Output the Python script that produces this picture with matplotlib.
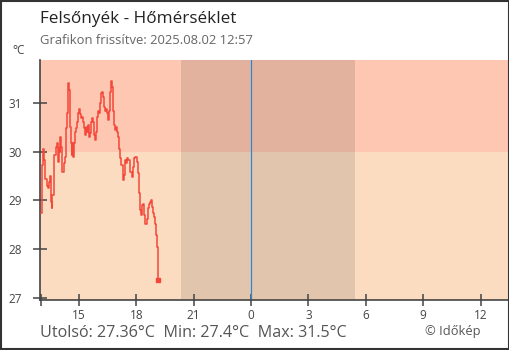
import matplotlib

matplotlib.use("Agg")
import matplotlib.pyplot as plt
from matplotlib.patches import Rectangle

plt.rcParams["font.family"] = ["Open Sans", "DejaVu Sans"]

# readings from yesterday afternoon (local time), degC
times = [
    "13:00", "13:03", "13:05", "13:09", "13:12", "13:15", "13:19", "13:24", "13:27", "13:30",
    "13:32", "13:35", "13:37", "13:41", "13:43", "13:48", "13:51", "13:54", "13:57", "14:00",
    "14:02", "14:05", "14:08", "14:13", "14:16", "14:19", "14:22", "14:25", "14:27", "14:29",
    "14:31", "14:35", "14:38", "14:40", "14:42", "14:45", "14:48", "14:51", "14:54", "14:58",
    "15:01", "15:03", "15:06", "15:09", "15:12", "15:15", "15:18", "15:22", "15:25", "15:28",
    "15:31", "15:34", "15:37", "15:40", "15:44", "15:47", "15:50", "15:53", "15:56", "15:59",
    "16:02", "16:06", "16:09", "16:12", "16:15", "16:18", "16:21", "16:24", "16:27", "16:31",
    "16:34", "16:37", "16:40", "16:42", "16:45", "16:48", "16:51", "16:55", "16:58", "17:01",
    "17:04", "17:07", "17:10", "17:13", "17:17", "17:20", "17:23", "17:26", "17:29", "17:32",
    "17:35", "17:39", "17:42", "17:45", "17:48", "17:51", "17:54", "17:57", "18:00", "18:04",
    "18:07", "18:10", "18:13", "18:16", "18:19", "18:22", "18:26", "18:29", "18:32", "18:35",
    "18:38", "18:41", "18:44", "18:47", "18:50", "18:53", "18:56", "18:59", "19:02", "19:05",
    "19:07", "19:09",
]
temps = [
    28.73, 29.10, 29.72, 30.06, 29.83, 29.43, 29.30, 29.25, 29.38, 29.50,
    28.96, 28.84, 29.10, 29.38, 29.93, 30.10, 30.17, 29.79, 30.07, 30.00,
    30.30, 30.10, 29.57, 29.76, 29.89, 30.48, 30.80, 31.26, 31.41, 31.26,
    30.50, 30.17, 29.93, 30.17, 29.89, 30.17, 30.40, 30.48, 30.60, 30.80,
    30.88, 30.78, 30.68, 30.70, 30.60, 30.48, 30.34, 30.50, 30.40, 30.54,
    30.30, 30.38, 30.60, 30.68, 30.60, 30.34, 30.24, 30.40, 30.70, 30.84,
    30.80, 31.00, 31.20, 31.23, 31.13, 30.92, 30.84, 30.88, 30.80, 30.64,
    30.84, 31.23, 31.40, 31.45, 31.33, 30.84, 30.54, 30.44, 30.50, 30.40,
    30.30, 30.06, 29.86, 29.72, 29.62, 29.41, 29.51, 29.82, 29.76, 29.86,
    29.82, 29.79, 29.57, 29.57, 29.48, 29.69, 29.86, 29.89, 29.89, 29.79,
    29.55, 29.14, 28.80, 28.70, 28.90, 28.93, 28.70, 28.52, 28.52, 28.62,
    28.83, 28.93, 28.96, 29.00, 28.86, 28.73, 28.66, 28.52, 28.28, 28.04,
    27.56, 27.36,
]

tick_hours = [-11, -9, -6, -3, 0, 3, 6, 9, 12]
tick_labels = ["", "15", "18", "21", "0", "3", "6", "9", "12"]
y_ticks = [27, 28, 29, 30, 31]
sunset, sunrise = -3.66, 5.44  # hours relative to midnight
threshold = 30

station = "Felsőnyék"
updated = "2025.08.02 12:57"
last_val, min_val, max_val = 27.36, 27.4, 31.5


def to_hours(hhmm):
    h, m = hhmm.split(":")
    return int(h) + int(m) / 60 - 24  # yesterday


hours = [to_hours(t) for t in times]

fig = plt.figure(figsize=(5.1, 3.5), dpi=100)
ax = fig.add_axes([40 / 510, 1 - 300 / 350, 469 / 510, 240 / 350])

xmin, xmax = -11.03, 13.49
ymin, ymax = 26.95, 31.88
ax.set_xlim(xmin, xmax)
ax.set_ylim(ymin, ymax)

ax.axhspan(threshold, ymax, color="#fdc7b1", lw=0, zorder=0)
ax.axhspan(ymin, threshold, color="#fcdcc1", lw=0, zorder=0)
ax.axvspan(sunset, sunrise, color="black", alpha=0.1, lw=0, zorder=1)
ax.axvline(0, color="#2f86d6", lw=0.9, zorder=2)

ax.plot(hours, temps, drawstyle="steps-post", color="#f4473a", lw=1.1, zorder=3)
ax.plot(hours[-1], temps[-1], "s", color="#f4473a", ms=3, zorder=4)

for s in ("top", "right"):
    ax.spines[s].set_visible(False)
for s in ("left", "bottom"):
    ax.spines[s].set_color("#444444")
    ax.spines[s].set_linewidth(1.2)

ax.set_xticks(tick_hours)
ax.set_xticklabels(tick_labels)
ax.set_yticks(y_ticks)
ax.tick_params(axis="x", direction="inout", length=8.5, width=1.1, color="#444444",
               labelsize=8.5, labelcolor="#444444", pad=2)
ax.tick_params(axis="y", direction="inout", length=10, width=1.1, color="#444444",
               labelsize=8.5, labelcolor="#444444", pad=8)

fig.text(40 / 510, 1 - 19 / 350, f"{station} - Hőmérséklet", fontsize=12.3,
         color="#222222", va="center")
fig.text(40 / 510, 1 - 41 / 350, f"Grafikon frissítve: {updated}", fontsize=9.4,
         color="#666666", va="center")
fig.text(19 / 510, 1 - 51 / 350, "°C", fontsize=8.5, color="#444444", va="center", ha="center")
fig.text(40 / 510, 1 - 333 / 350,
         f"Utolsó: {last_val:.2f}°C  Min: {min_val}°C  Max: {max_val}°C",
         fontsize=11.6, color="#555555", va="center")
fig.text(453 / 510, 1 - 331 / 350, "© Időkép", fontsize=9.3, color="#555555",
         va="center", ha="center")

fig.add_artist(Rectangle((0.0015, 0.002), 0.997, 0.996, transform=fig.transFigure,
                         fill=False, edgecolor="#333333", lw=1.5))

fig.savefig("out.png", dpi=100)
